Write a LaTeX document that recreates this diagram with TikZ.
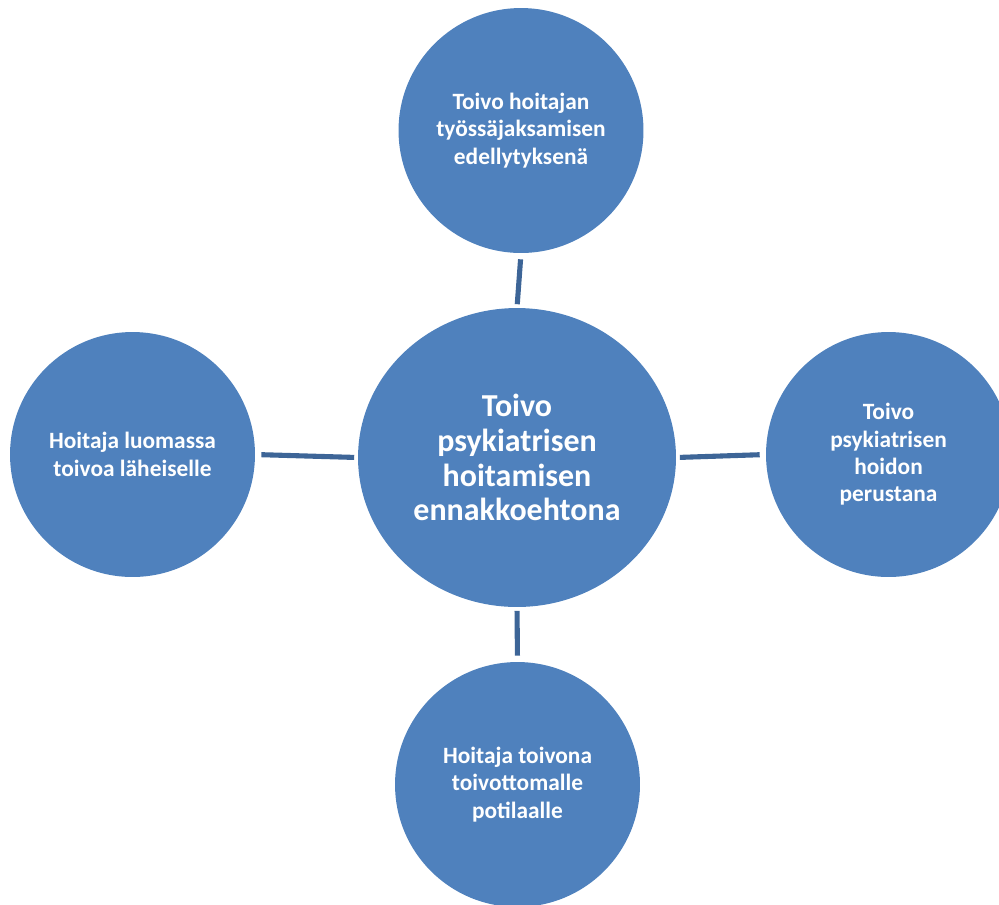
\documentclass[tikz,border=0pt]{standalone}
\usepackage{fontspec}
\setmainfont{Carlito}
\usepackage{tikz}
\usetikzlibrary{shapes.geometric}
\definecolor{bubble}{RGB}{79,129,189}
\definecolor{spoke}{RGB}{61,101,151}

\begin{document}
\begin{tikzpicture}[x=0.02cm, y=-0.02cm,
outer/.style={circle, fill=bubble, text=white, align=center, inner sep=0pt,
	minimum size=4.9cm, font=\bfseries\fontsize{13.3}{15.6}\selectfont},
hub/.style={ellipse, fill=bubble, text=white, align=center, inner sep=0pt,
	minimum width=6.36cm, minimum height=5.98cm, font=\bfseries\fontsize{18.2}{19.8}\selectfont},
link/.style={draw=spoke, line width=2.9pt, shorten <=0.12cm, shorten >=0.07cm}]
\useasboundingbox (0,0) rectangle (999,904);
\node[hub] (hub) at (517,457.5) {Toivo\\psykiatrisen\\hoitamisen\\ennakkoehtona};
\node[outer] (top) at (521,130.5) {Toivo hoitajan\\työssäjaksamisen\\edellytyksenä};
\node[outer] (left) at (132.5,454.5) {Hoitaja luomassa\\toivoa läheiselle};
\node[outer] (right) at (888.5,454.5) {Toivo\\psykiatrisen\\hoidon\\perustana};
\node[outer] (bottom) at (517.5,784.5) {Hoitaja toivona\\toivottomalle\\potilaalle};
\draw[link] (top.south) -- (hub.north);
\draw[link] (left.east) -- (hub.west);
\draw[link] (right.west) -- (hub.east);
\draw[link] (bottom.north) -- (hub.south);
\end{tikzpicture}
\end{document}
